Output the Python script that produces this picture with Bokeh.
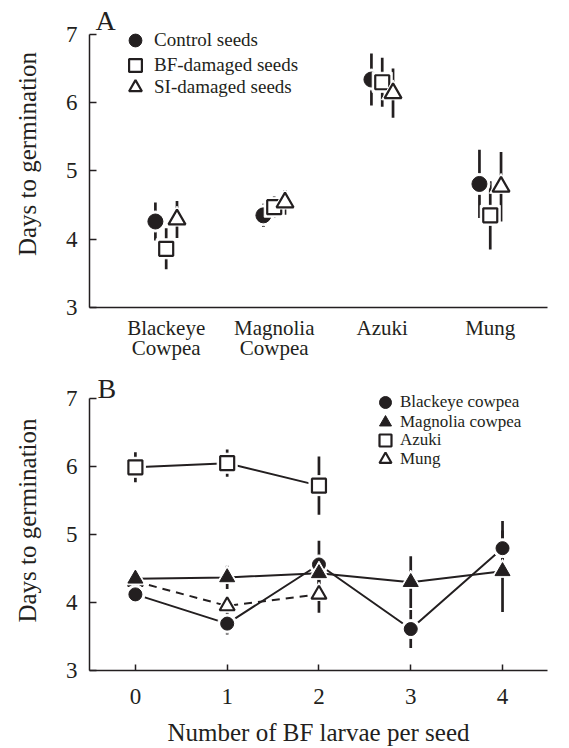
from bokeh.plotting import figure
from bokeh.layouts import column
from bokeh.models import FixedTicker, Legend, LegendItem, Label, Range1d
from bokeh.embed import file_html
from bokeh.resources import INLINE

INK = "#231f20"
FONT = "Liberation Serif"

# ---------------- Panel A data ----------------
species = ["Blackeye\nCowpea", "Magnolia\nCowpea", "Azuki", "Mung"]
species_pos = [1, 2, 3, 4]
control_mean = [4.26, 4.35, 6.34, 4.81]
control_err = [0.28, 0.17, 0.38, 0.50]
bf_mean = [3.86, 4.47, 6.30, 4.35]
bf_err = [0.30, 0.16, 0.36, 0.50]
si_mean = [4.29, 4.54, 6.14, 4.77]
si_err = [0.27, 0.18, 0.36, 0.51]
treatment_offset = [-0.1, 0.0, 0.1]
treatment_labels = ["Control seeds", "BF-damaged seeds", "SI-damaged seeds"]

# ---------------- Panel B data ----------------
larvae = [0, 1, 2, 3, 4]
blackeye_b = [4.12, 3.69, 4.56, 3.61, 4.80]
blackeye_err = [0.06, 0.16, 0.35, 0.28, 0.40]
magnolia_b = [4.35, 4.37, 4.43, 4.30, 4.46]
magnolia_err = [0.06, 0.17, 0.20, 0.38, 0.60]
azuki_larvae = [0, 1, 2]
azuki_b = [5.99, 6.05, 5.72]
azuki_err = [0.22, 0.20, 0.43]
mung_larvae = [0, 1, 2]
mung_b = [4.31, 3.95, 4.12]
mung_err = [0.06, 0.08, 0.27]
y_ticks = [3, 4, 5, 6, 7]
species_b = ["Blackeye cowpea", "Magnolia cowpea", "Azuki", "Mung"]


def base_fig(height, xr, ytop, top, bottom, right):
    p = figure(width=569, height=height, x_range=Range1d(*xr), y_range=Range1d(3, ytop),
               output_backend="svg", toolbar_location=None,
               min_border_left=89, min_border_right=right,
               min_border_top=top, min_border_bottom=bottom)
    p.outline_line_color = None
    p.grid.visible = False
    p.background_fill_color = "white"
    p.border_fill_color = "white"
    for ax in (p.xaxis[0], p.yaxis[0]):
        ax.axis_line_color = INK
        ax.axis_line_width = 1.5
        ax.major_tick_line_color = INK
        ax.major_tick_line_width = 1.5
        ax.minor_tick_line_color = None
        ax.major_label_text_font = FONT
        ax.major_label_text_color = INK
        ax.axis_label_text_font = FONT
        ax.axis_label_text_color = INK
        ax.axis_label_text_font_style = "normal"
        ax.axis_label_text_font_size = "25px"
    ya = p.yaxis[0]
    ya.ticker = FixedTicker(ticks=y_ticks, minor_ticks=[])
    ya.bounds = (y_ticks[0], y_ticks[-1])
    ya.major_tick_in = 7
    ya.major_tick_out = 0
    ya.major_label_text_font_size = "23px"
    ya.major_label_standoff = 12
    ya.axis_label = "Days to germination"
    ya.axis_label_standoff = 22
    return p


def err_bars(p, xs, mean, err):
    lo = [m - e for m, e in zip(mean, err)]
    hi = [m + e for m, e in zip(mean, err)]
    p.segment(x0=xs, y0=lo, x1=xs, y1=hi, line_color=INK, line_width=2.7)


def marker(p, xs, ys, kind, size, filled):
    p.scatter(xs, ys, marker=kind, size=size + 6, fill_color="white", line_color="white")
    if filled:
        return p.scatter(xs, ys, marker=kind, size=size, fill_color=INK, line_color=INK, line_width=1)
    return p.scatter(xs, ys, marker=kind, size=size, fill_color="white", line_color=INK, line_width=2.2)


def one_legend(p, label, rend, loc, glyph, standoff, fsize):
    p.add_layout(Legend(items=[LegendItem(label=label, renderers=[rend])],
                        location=loc, orientation="vertical",
                        border_line_color=None, background_fill_alpha=0, padding=0, margin=0,
                        spacing=0, glyph_width=glyph, glyph_height=glyph, label_standoff=standoff,
                        label_text_font=FONT, label_text_font_size=fsize, label_text_color=INK))


# ================= Panel A =================
pa = base_fig(370, (0.29, 4.53), 7.498, 0, 63, 22)
xa = pa.xaxis[0]
xa.ticker = FixedTicker(ticks=species_pos, minor_ticks=[])
xa.major_label_overrides = {pos: lab for pos, lab in zip(species_pos, species)}
xa.major_tick_in = 0
xa.major_tick_out = 0
xa.major_label_text_font_size = "21px"
xa.major_label_text_line_height = 0.85
xa.major_label_standoff = 8

means = [control_mean, bf_mean, si_mean]
errs = [control_err, bf_err, si_err]
kinds = [("circle", 15, True), ("square", 14, False), ("triangle", 17, False)]
xs_all = [[pos + off for pos in species_pos] for off in treatment_offset]
for xs, m, e in zip(xs_all, means, errs):
    err_bars(pa, xs, m, e)
rends_a = []
for xs, m, (k, s, f) in zip(xs_all, means, kinds):
    rends_a.append(marker(pa, xs, m, k, s, f))

for lab, r, vy in zip(treatment_labels, rends_a, [251, 226, 204]):
    one_legend(pa, lab, r, (30, vy), 32, 3, "19px")

pa.add_layout(Label(x=6, y=287, x_units="screen", y_units="screen", text="A",
                    text_font=FONT, text_font_size="28px", text_color=INK,
                    text_baseline="alphabetic"))

# ================= Panel B =================
pb = base_fig(378, (-0.5, 4.49), 7.414, 0, 76, 0)
xb = pb.xaxis[0]
xb.ticker = FixedTicker(ticks=larvae, minor_ticks=[])
xb.major_tick_in = 6
xb.major_tick_out = 0
xb.major_label_text_font_size = "23px"
xb.major_label_standoff = 18
xb.axis_label = "Number of BF larvae per seed"
xb.axis_label_standoff = 12

err_bars(pb, azuki_larvae, azuki_b, azuki_err)
err_bars(pb, mung_larvae, mung_b, mung_err)
err_bars(pb, larvae, blackeye_b, blackeye_err)
err_bars(pb, larvae, magnolia_b, magnolia_err)

pb.line(azuki_larvae, azuki_b, line_color=INK, line_width=2)
pb.line(mung_larvae, mung_b, line_color=INK, line_width=2, line_dash="8 6")
pb.line(larvae, blackeye_b, line_color=INK, line_width=2)
pb.line(larvae, magnolia_b, line_color=INK, line_width=2)

r_mung = marker(pb, mung_larvae, mung_b, "triangle", 15, False)
r_black = marker(pb, larvae, blackeye_b, "circle", 13, True)
r_mag = marker(pb, larvae, magnolia_b, "triangle", 15, True)
r_az = marker(pb, azuki_larvae, azuki_b, "square", 14, False)

for lab, r, vy in zip(species_b, [r_black, r_mag, r_az, r_mung], [253, 233, 215, 196]):
    one_legend(pb, lab, r, (281, vy), 30, -5, "17px")

pb.add_layout(Label(x=8, y=282, x_units="screen", y_units="screen", text="B",
                    text_font=FONT, text_font_size="28px", text_color=INK,
                    text_baseline="alphabetic"))

layout = column(pa, pb, spacing=0)
open("out.html", "w").write(file_html(layout, INLINE))
